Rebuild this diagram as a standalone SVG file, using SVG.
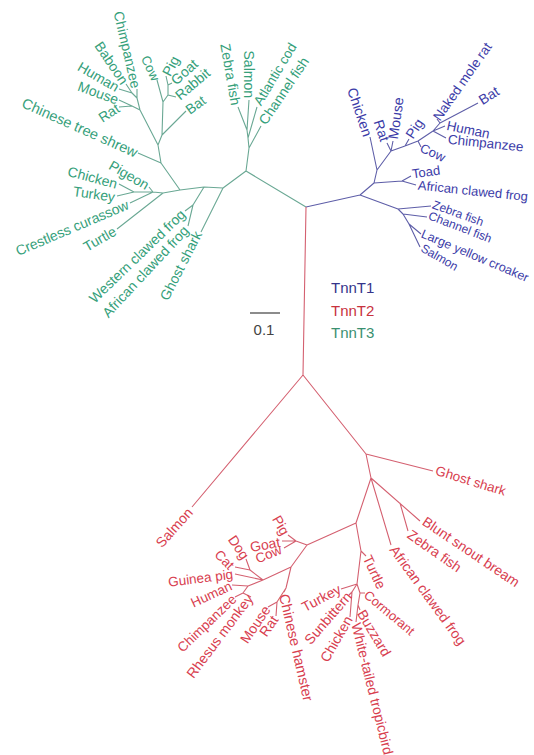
<svg xmlns="http://www.w3.org/2000/svg" width="534" height="755" viewBox="0 0 534 755">
<style>
text{font-family:"Liberation Sans",Arial,sans-serif;font-size:14px}
.g{fill:#35a07a}.b{fill:#3c3ca8}.r{fill:#d8404f}
.e{text-anchor:end}
.lg{stroke:#6aa894;fill:none;stroke-width:1.1}
.lb{stroke:#5e5ea8;fill:none;stroke-width:1.1}
.lr{stroke:#d46070;fill:none;stroke-width:1.1}
</style>
<rect width="534" height="755" fill="#fff"/>
<g id="connectors">
<path class="lg" d="M306,207L246,171M246,171L249,148M249,148L261,126M249,148L248,138M248,138L257,107M248,138L247,130M247,130L249,100M247,130L238,107M246,171L223,188M223,188L201,232M223,188L204,187M204,187L193,205M193,205L185,211M193,205L188,226M204,187L180,190M180,190L161,163M180,190L163,193M163,193L117,229M163,193L153,192M153,192L149,187M153,192L130,203M153,192L134,192M134,192L119,184M134,192L117,196M161,163L138,153M161,163L158,145M158,145L140,110M140,110L137,98M137,98L137,89M137,98L132,93M132,93L126,84M132,93L119,89M140,110L132,106M132,106L119,100M132,106L119,107M158,145L162,135M162,135L186,111M162,135L163,102M163,102L157,80M163,102L168,95M168,95L168,85M168,85L166,76M168,85L172,83M168,95L176,97"/>
<path class="lb" d="M306,207L360,195M360,195L374,183M374,183L402,181M402,181L411,176M402,181L416,185M374,183L377,170M377,170L370,137M377,170L391,151M391,151L387,143M391,151L393,141M391,151L405,146M405,146L409,139M405,146L418,141M418,141L421,147M418,141L433,131M433,131L445,126M433,131L446,138M433,131L440,123M440,123L437,119M440,123L478,103M360,195L398,209M398,209L431,206M398,209L403,214M403,214L427,217M403,214L409,224M409,224L421,234M409,224L420,247"/>
<path class="lr" d="M306,207L303,375M303,375L192,507M303,375L366,454M366,454L433,471M366,454L371,478M371,478L420,521M400,503L408,531M371,478L391,545M371,478L356,523M356,523L307,545M307,545L296,541M296,541L288,535M296,541L282,541M296,541L284,548M307,545L291,567M291,567L263,580M263,580L250,570M250,570L246,559M250,570L235,567M263,580L235,574M263,580L248,586M248,586L232,585M248,586L243,593M243,593L235,597M243,593L251,597M291,567L286,588M286,588L284,592M286,588L277,602M277,602L268,607M277,602L276,616M356,523L361,551M361,551L366,556M361,551L357,584M357,584L341,589M357,584L352,592M352,592L349,595M352,592L350,617M357,584L360,593M360,593L365,593M360,593L358,605M358,605L360,610M358,605L356,622"/>
</g>
<g id="scale">
<line x1="250" y1="313" x2="280" y2="313" stroke="#666" stroke-width="1.5"/>
<text x="264" y="335" text-anchor="middle" fill="#444" style="font-size:15px">0.1</text>
</g>
<g id="legend">
<text x="331" y="293" fill="#34348a" style="font-size:15px">TnnT1</text>
<text x="331" y="316" fill="#c8323e" style="font-size:15px">TnnT2</text>
<text x="331" y="338" fill="#3a9070" style="font-size:15px">TnnT3</text>
</g>
<g id="tnnt3-labels">
<text id="g-chimp" class="g e" dy=".35em" transform="translate(136,88) rotate(77)">Chimpanzee</text>
<text id="g-baboon" class="g e" dy=".35em" transform="translate(125,83) rotate(56)">Baboon</text>
<text id="g-human" class="g e" dy=".35em" transform="translate(118,88) rotate(30)">Human</text>
<text id="g-mouse" class="g e" dy=".35em" transform="translate(118,100) rotate(20)">Mouse</text>
<text id="g-rat" class="g e" dy=".35em" transform="translate(118,107) rotate(-33)">Rat</text>
<text id="g-shrew" class="g e" dy=".35em" style="font-size:14.5px" transform="translate(137,153) rotate(24)">Chinese tree shrew</text>
<text id="g-cow" class="g e" dy=".35em" style="font-size:13px" transform="translate(156,80) rotate(65)">Cow</text>
<text id="g-pig" class="g" dy=".35em" transform="translate(166,75) rotate(-62)">Pig</text>
<text id="g-goat" class="g" dy=".35em" transform="translate(173,82) rotate(-42)">Goat</text>
<text id="g-rabbit" class="g" dy=".35em" transform="translate(177,97) rotate(-40)">Rabbit</text>
<text id="g-bat" class="g" dy=".35em" transform="translate(187,111) rotate(-36)">Bat</text>
<text id="g-zebra" class="g e" dy=".35em" transform="translate(236,105) rotate(80)">Zebra fish</text>
<text id="g-salmon" class="g e" dy=".35em" transform="translate(249,98) rotate(90)">Salmon</text>
<text id="g-cod" class="g" dy=".35em" style="font-size:13.5px" transform="translate(257,104) rotate(-59)">Atlantic cod</text>
<text id="g-channel" class="g" dy=".35em" transform="translate(262,123) rotate(-56)">Channel fish</text>
<text id="g-pigeon" class="g e" dy=".35em" transform="translate(148,186) rotate(30)">Pigeon</text>
<text id="g-chicken" class="g e" dy=".35em" transform="translate(117,184) rotate(15)">Chicken</text>
<text id="g-turkey" class="g e" dy=".35em" transform="translate(115,197) rotate(8)">Turkey</text>
<text id="g-curassow" class="g e" dy=".35em" transform="translate(128,204) rotate(-23)">Crestless curassow</text>
<text id="g-turtle" class="g e" dy=".35em" transform="translate(115,230) rotate(-30)">Turtle</text>
<text id="g-wfrog" class="g e" dy=".35em" transform="translate(183,212) rotate(-44)">Western clawed frog</text>
<text id="g-afrog" class="g e" dy=".35em" transform="translate(186,228) rotate(-47)">African clawed frog</text>
<text id="g-shark" class="g e" dy=".35em" transform="translate(198,232) rotate(-63)">Ghost shark</text>
</g>
<g id="tnnt1-labels">
<text id="b-chicken" class="b e" dy=".35em" transform="translate(368,136) rotate(71)">Chicken</text>
<text id="b-rat" class="b e" dy=".35em" transform="translate(385,141) rotate(72)">Rat</text>
<text id="b-mouse" class="b" dy=".35em" transform="translate(393,139) rotate(-82)">Mouse</text>
<text id="b-pig" class="b" dy=".35em" transform="translate(409,137) rotate(-57)">Pig</text>
<text id="b-cow" class="b" dy=".35em" style="font-size:13px" transform="translate(421,147) rotate(25)">Cow</text>
<text id="b-human" class="b" dy=".35em" style="font-size:13.5px" transform="translate(447,125) rotate(12)">Human</text>
<text id="b-chimp" class="b" dy=".35em" style="font-size:13.5px" transform="translate(448,139) rotate(6)">Chimpanzee</text>
<text id="b-nmr" class="b" dy=".35em" style="font-size:13.5px" transform="translate(436,119) rotate(-55)">Naked mole rat</text>
<text id="b-bat" class="b" dy=".35em" transform="translate(480,101) rotate(-32)">Bat</text>
<text id="b-toad" class="b" dy=".35em" style="font-size:13px" transform="translate(412,174) rotate(-8)">Toad</text>
<text id="b-afrog" class="b" dy=".35em" style="font-size:13px" transform="translate(418,185) rotate(6)">African clawed frog</text>
<text id="b-zebra" class="b" dy=".35em" style="font-size:12px" transform="translate(433,204) rotate(20)">Zebra fish</text>
<text id="b-channel" class="b" dy=".35em" style="font-size:12px" transform="translate(429,215) rotate(21)">Channel fish</text>
<text id="b-croaker" class="b" dy=".35em" style="font-size:12.5px" transform="translate(422,233) rotate(23)">Large yellow croaker</text>
<text id="b-salmon" class="b" dy=".35em" style="font-size:12px" transform="translate(422,247) rotate(30)">Salmon</text>
</g>
<g id="tnnt2-labels">
<text id="r-salmon" class="r e" dy=".35em" transform="translate(190,510) rotate(-48)">Salmon</text>
<text id="r-shark" class="r" dy=".35em" style="font-size:13.5px" transform="translate(436,470) rotate(17)">Ghost shark</text>
<text id="r-bream" class="r" dy=".35em" transform="translate(424,520) rotate(34)">Blunt snout bream</text>
<text id="r-zebra" class="r" dy=".35em" transform="translate(409,533) rotate(35)">Zebra fish</text>
<text id="r-afrog" class="r" dy=".35em" transform="translate(393,547) rotate(54)">African clawed frog</text>
<text id="r-turtle" class="r" dy=".35em" transform="translate(367,556) rotate(65)">Turtle</text>
<text id="r-cormorant" class="r" dy=".35em" style="font-size:13px" transform="translate(366,593) rotate(40)">Cormorant</text>
<text id="r-buzzard" class="r" dy=".35em" transform="translate(361,611) rotate(59)">Buzzard</text>
<text id="r-tropic" class="r" dy=".35em" transform="translate(356,623) rotate(76)">White-tailed tropicbird</text>
<text id="r-chicken" class="r e" dy=".35em" transform="translate(349,617) rotate(-60)">Chicken</text>
<text id="r-sunbittern" class="r e" dy=".35em" transform="translate(349,594) rotate(-49)">Sunbittern</text>
<text id="r-turkey" class="r e" dy=".35em" transform="translate(340,588) rotate(-28)">Turkey</text>
<text id="r-hamster" class="r" dy=".35em" style="font-size:14.5px" transform="translate(284,594) rotate(77)">Chinese hamster</text>
<text id="r-rat" class="r e" dy=".35em" transform="translate(275,617) rotate(-55)">Rat</text>
<text id="r-mouse" class="r e" dy=".35em" transform="translate(267,607) rotate(-56)">Mouse</text>
<text id="r-rhesus" class="r e" dy=".35em" transform="translate(250,596) rotate(-53)">Rhesus monkey</text>
<text id="r-chimp" class="r e" dy=".35em" style="font-size:13.5px" transform="translate(234,597) rotate(-44)">Chimpanzee</text>
<text id="r-human" class="r e" dy=".35em" style="font-size:13.5px" transform="translate(231,585) rotate(-25)">Human</text>
<text id="r-guinea" class="r e" dy=".35em" style="font-size:13.5px" transform="translate(233,574) rotate(-7)">Guinea pig</text>
<text id="r-cat" class="r e" dy=".35em" style="font-size:13.5px" transform="translate(232,567) rotate(45)">Cat</text>
<text id="r-dog" class="r e" dy=".35em" transform="translate(246,558) rotate(56)">Dog</text>
<text id="r-goat" class="r e" dy=".35em" transform="translate(280,542) rotate(-10)">Goat</text>
<text id="r-cow" class="r e" dy=".35em" style="font-size:13.5px" transform="translate(281,549) rotate(-22)">Cow</text>
<text id="r-pig" class="r e" dy=".35em" transform="translate(286,534) rotate(60)">Pig</text>
</g>
</svg>
